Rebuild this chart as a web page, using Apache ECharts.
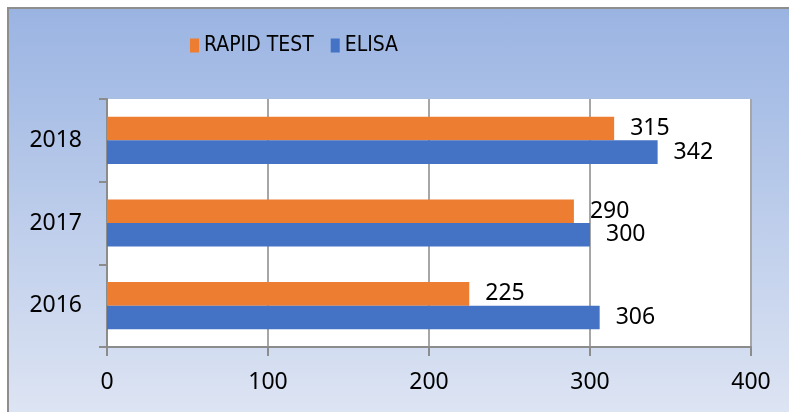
<!DOCTYPE html>
<html>
<head>
<meta charset="utf-8">
<title>RAPID TEST vs ELISA</title>
<script src="https://cdn.jsdelivr.net/npm/echarts@6/dist/echarts.min.js"></script>
<style>
  html, body { margin: 0; padding: 0; background: #fff; }
  #main {
    position: absolute;
    left: 7px;
    top: 7px;
    width: 782px;
    height: 405px;
    box-sizing: border-box;
    border-left: 2px solid #8e8e8e;
    border-top: 2px solid #8e8e8e;
    background: linear-gradient(to bottom, #9ab4e2 0%, #dde4f3 100%);
  }
</style>
</head>
<body>
<div id="main"></div>
<script>
var years = ['2016', '2017', '2018']
var rapidTest = [225, 290, 315]
var elisa = [306, 300, 342]
var xTicks = { min: 0, max: 400, step: 100 }

var numFont = 'Noto Sans'
var chart = echarts.init(document.getElementById('main'), null, { renderer: 'canvas' })

chart.setOption({
  backgroundColor: 'transparent',
  animation: false,
  legend: {
    left: 181,
    top: 26,
    padding: 0,
    itemWidth: 9,
    itemHeight: 14,
    itemGap: 17,
    icon: 'rect',
    textStyle: {
      fontFamily: 'Liberation Sans Narrow, DejaVu Sans Condensed, sans-serif',
      fontSize: 21,
      color: '#000'
    },
    data: ['RAPID TEST', 'ELISA']
  },
  grid: {
    left: 98,
    top: 90,
    width: 644,
    height: 248,
    show: true,
    backgroundColor: '#fff',
    borderWidth: 0
  },
  xAxis: {
    type: 'value',
    min: xTicks.min,
    max: xTicks.max,
    interval: xTicks.step,
    axisLine: { show: true, lineStyle: { color: '#8c8c8c', width: 2 } },
    axisTick: { show: true, length: 9, lineStyle: { color: '#8c8c8c', width: 2 } },
    splitLine: { show: true, lineStyle: { color: '#a6a6a6', width: 2 } },
    axisLabel: {
      margin: 24,
      fontFamily: numFont,
      fontSize: 23,
      color: '#000'
    }
  },
  yAxis: {
    type: 'category',
    data: years,
    axisLine: { show: true, lineStyle: { color: '#8c8c8c', width: 2 } },
    axisTick: { show: true, length: 8, lineStyle: { color: '#8c8c8c', width: 2 } },
    axisLabel: {
      margin: 25,
      fontFamily: numFont,
      fontSize: 23,
      color: '#000'
    }
  },
  series: [
    {
      name: 'RAPID TEST',
      type: 'bar',
      data: rapidTest,
      barGap: 0,
      barCategoryGap: '43%',
      itemStyle: { color: '#ed7d31' },
      label: {
        show: true,
        position: 'right',
        distance: 16,
        fontFamily: numFont,
        fontSize: 23,
        color: '#000'
      }
    },
    {
      name: 'ELISA',
      type: 'bar',
      data: elisa,
      barGap: 0,
      barCategoryGap: '43%',
      itemStyle: { color: '#4472c4' },
      label: {
        show: true,
        position: 'right',
        distance: 16,
        fontFamily: numFont,
        fontSize: 23,
        color: '#000'
      }
    }
  ]
})
</script>
</body>
</html>
